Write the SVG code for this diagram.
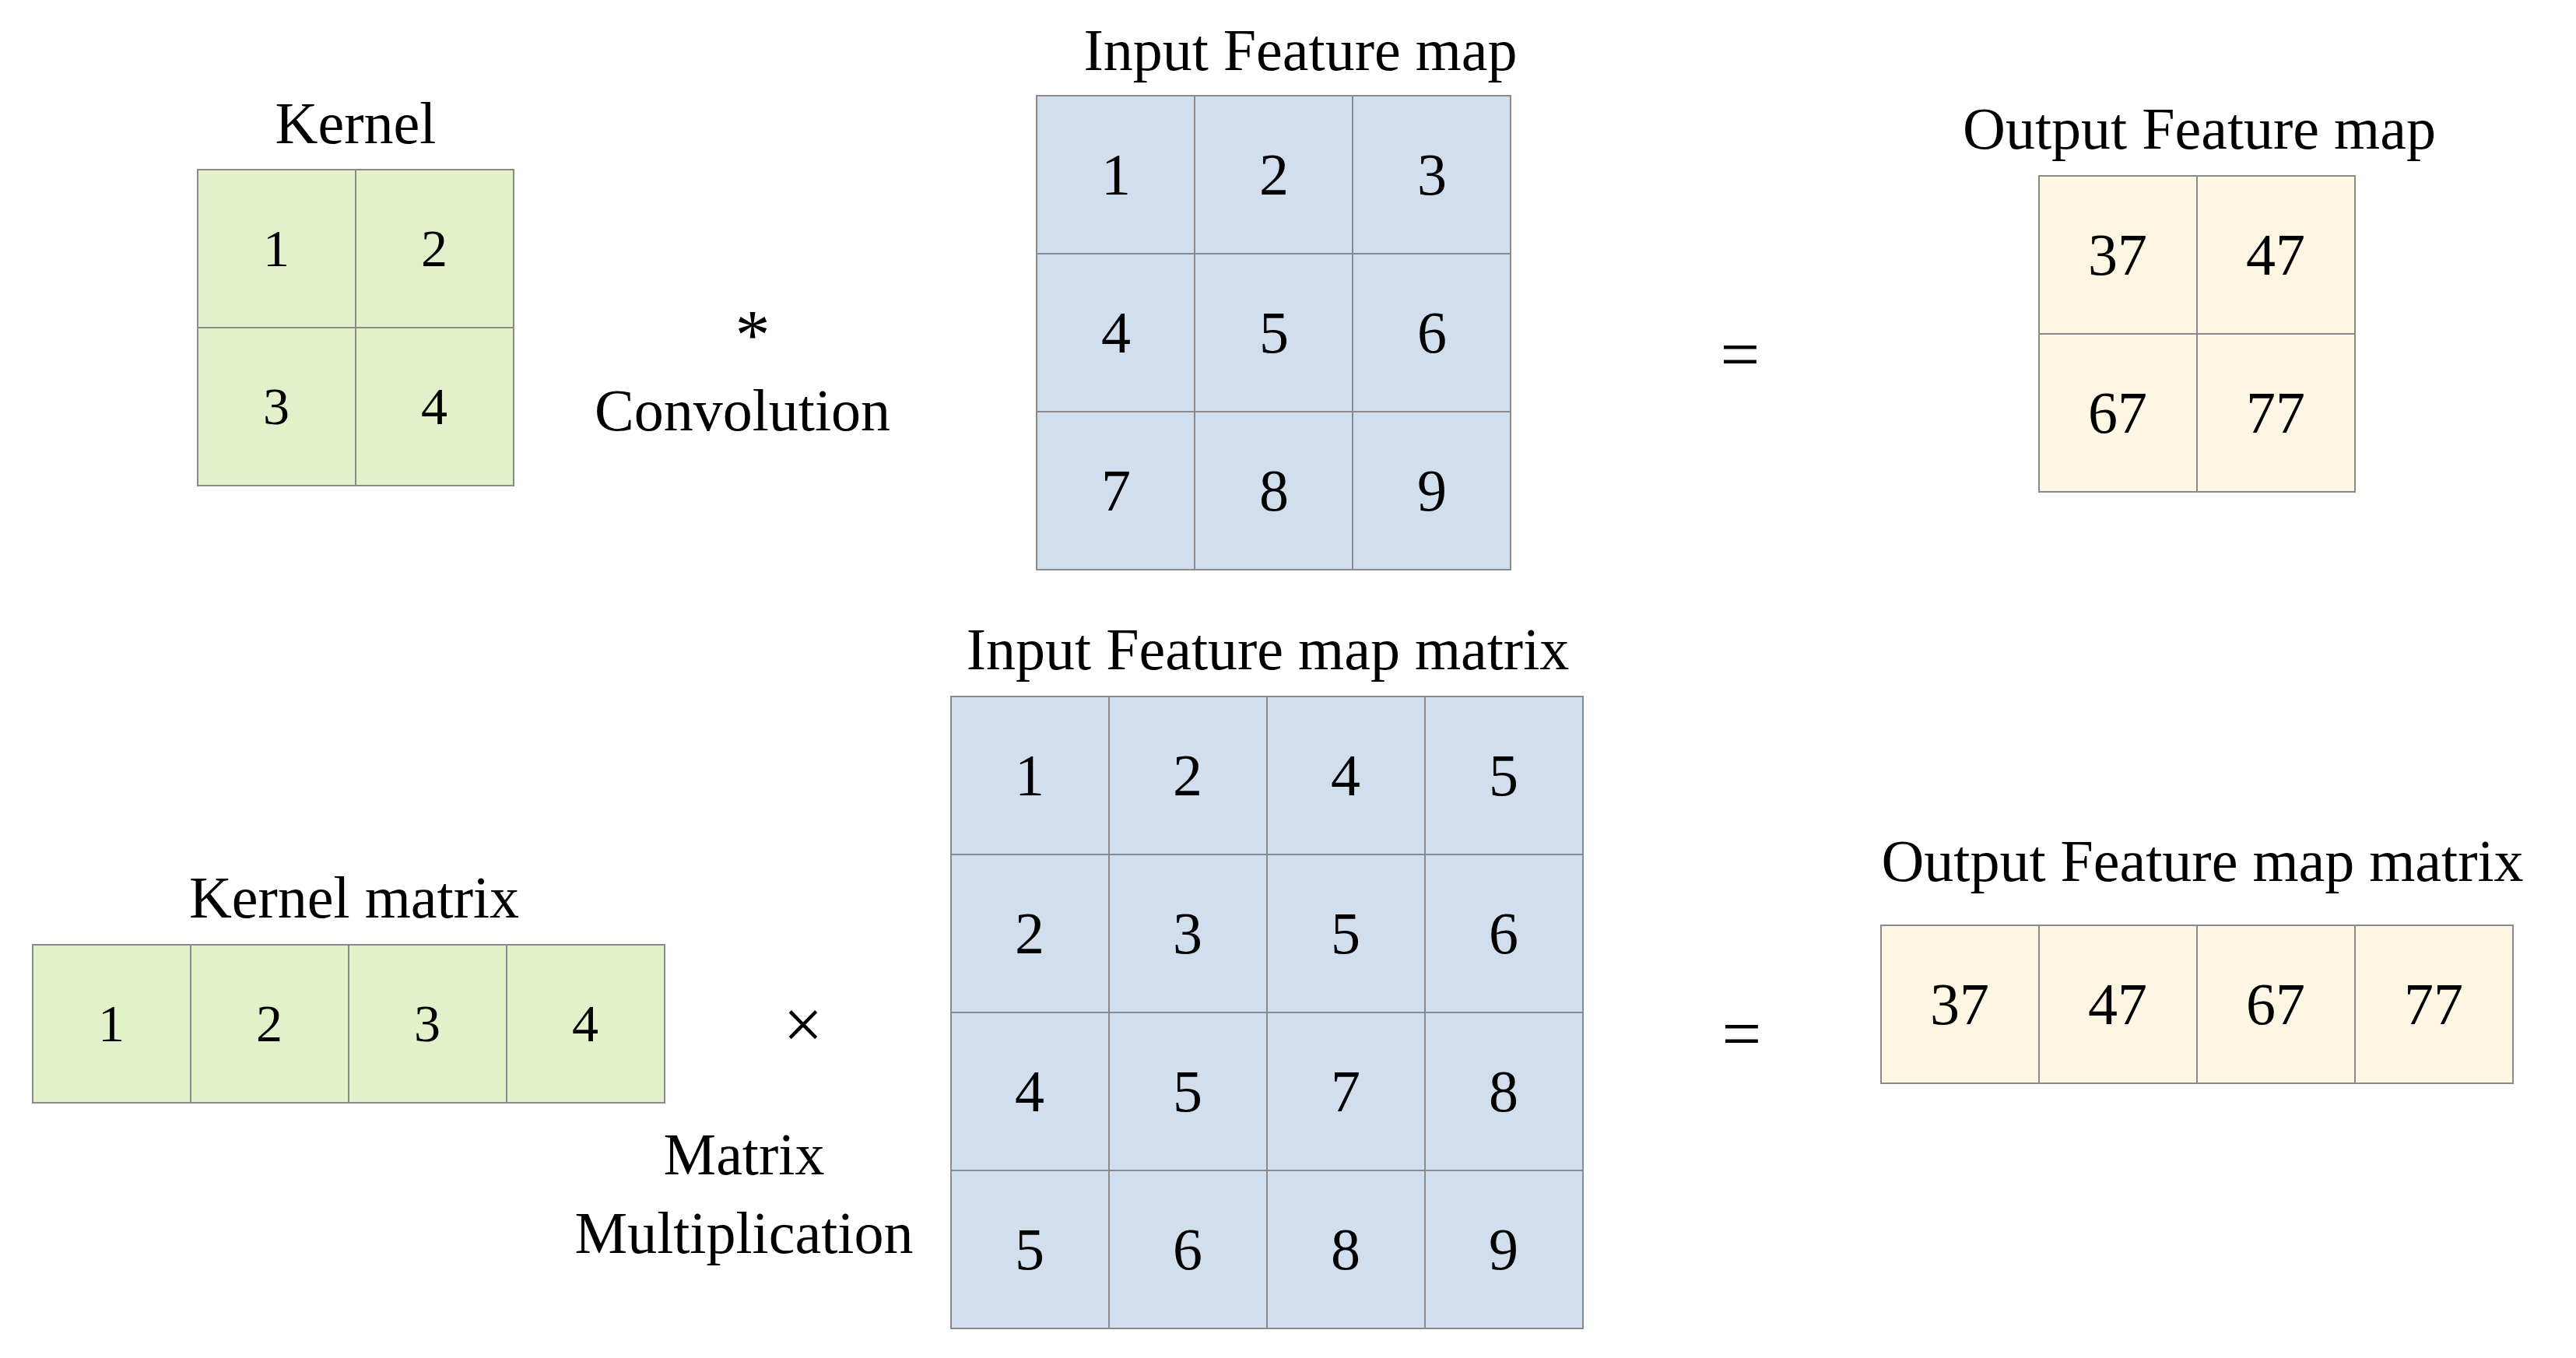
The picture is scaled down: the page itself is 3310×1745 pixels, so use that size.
<svg xmlns="http://www.w3.org/2000/svg" width="3310" height="1745" viewBox="0 0 3310 1745">
<style>
text{font-family:"Liberation Serif","Times New Roman",serif;fill:#000;text-anchor:middle;dominant-baseline:central}
.lbl{font-size:76px}
.g{fill:#E3F1CB;stroke:#8a8a8a;stroke-width:2}
.b{fill:#D1DEEE;stroke:#8a8a8a;stroke-width:2}
.y{fill:#FDF6E2;stroke:#8a8a8a;stroke-width:2}
.s{font-size:68px}
.m{font-size:76px}
</style>
<rect width="3310" height="1745" fill="#fff"/>
<g id="kernel">
<text class="lbl" x="457" y="158">Kernel</text>
<rect class="g" x="254" y="218" width="203" height="203"/><rect class="g" x="457" y="218" width="203" height="203"/>
<rect class="g" x="254" y="421" width="203" height="203"/><rect class="g" x="457" y="421" width="203" height="203"/>
<text class="s" x="355" y="319">1</text><text class="s" x="558" y="319">2</text>
<text class="s" x="355" y="522">3</text><text class="s" x="558" y="522">4</text>
</g>
<g id="conv-op">
<text x="967" y="430" style="font-size:90px">*</text>
<text class="lbl" x="954" y="527">Convolution</text>
</g>
<g id="input-map">
<text class="lbl" x="1671" y="64">Input Feature map</text>
<rect class="b" x="1332" y="123" width="203" height="203"/><rect class="b" x="1535" y="123" width="203" height="203"/><rect class="b" x="1738" y="123" width="203" height="203"/>
<rect class="b" x="1332" y="326" width="203" height="203"/><rect class="b" x="1535" y="326" width="203" height="203"/><rect class="b" x="1738" y="326" width="203" height="203"/>
<rect class="b" x="1332" y="529" width="203" height="203"/><rect class="b" x="1535" y="529" width="203" height="203"/><rect class="b" x="1738" y="529" width="203" height="203"/>
<text class="m" x="1434" y="224">1</text><text class="m" x="1637" y="224">2</text><text class="m" x="1840" y="224">3</text>
<text class="m" x="1434" y="427">4</text><text class="m" x="1637" y="427">5</text><text class="m" x="1840" y="427">6</text>
<text class="m" x="1434" y="630">7</text><text class="m" x="1637" y="630">8</text><text class="m" x="1840" y="630">9</text>
</g>
<g id="eq1"><text x="2236" y="455" style="font-size:90px">=</text></g>
<g id="output-map">
<text class="lbl" x="2826" y="165">Output Feature map</text>
<rect class="y" x="2620" y="226" width="203" height="203"/><rect class="y" x="2823" y="226" width="203" height="203"/>
<rect class="y" x="2620" y="429" width="203" height="203"/><rect class="y" x="2823" y="429" width="203" height="203"/>
<text class="m" x="2721" y="327">37</text><text class="m" x="2924" y="327">47</text>
<text class="m" x="2721" y="530">67</text><text class="m" x="2924" y="530">77</text>
</g>
<g id="kernel-matrix">
<text class="lbl" x="455" y="1153">Kernel matrix</text>
<rect class="g" x="42" y="1214" width="203" height="203"/><rect class="g" x="245" y="1214" width="203" height="203"/><rect class="g" x="448" y="1214" width="203" height="203"/><rect class="g" x="651" y="1214" width="203" height="203"/>
<text class="s" x="143" y="1315">1</text><text class="s" x="346" y="1315">2</text><text class="s" x="549" y="1315">3</text><text class="s" x="752" y="1315">4</text>
</g>
<g id="mul-op">
<text x="1032" y="1316" style="font-size:90px">×</text>
<text class="lbl" x="956" y="1483">Matrix</text>
<text class="lbl" x="956" y="1584">Multiplication</text>
</g>
<g id="input-matrix">
<text class="lbl" x="1629" y="834">Input Feature map matrix</text>
<g>
<rect class="b" x="1222" y="895" width="203" height="203"/><rect class="b" x="1425" y="895" width="203" height="203"/><rect class="b" x="1628" y="895" width="203" height="203"/><rect class="b" x="1831" y="895" width="203" height="203"/>
<rect class="b" x="1222" y="1098" width="203" height="203"/><rect class="b" x="1425" y="1098" width="203" height="203"/><rect class="b" x="1628" y="1098" width="203" height="203"/><rect class="b" x="1831" y="1098" width="203" height="203"/>
<rect class="b" x="1222" y="1301" width="203" height="203"/><rect class="b" x="1425" y="1301" width="203" height="203"/><rect class="b" x="1628" y="1301" width="203" height="203"/><rect class="b" x="1831" y="1301" width="203" height="203"/>
<rect class="b" x="1222" y="1504" width="203" height="203"/><rect class="b" x="1425" y="1504" width="203" height="203"/><rect class="b" x="1628" y="1504" width="203" height="203"/><rect class="b" x="1831" y="1504" width="203" height="203"/>
</g>
<text class="m" x="1323" y="996">1</text><text class="m" x="1526" y="996">2</text><text class="m" x="1729" y="996">4</text><text class="m" x="1932" y="996">5</text>
<text class="m" x="1323" y="1199">2</text><text class="m" x="1526" y="1199">3</text><text class="m" x="1729" y="1199">5</text><text class="m" x="1932" y="1199">6</text>
<text class="m" x="1323" y="1402">4</text><text class="m" x="1526" y="1402">5</text><text class="m" x="1729" y="1402">7</text><text class="m" x="1932" y="1402">8</text>
<text class="m" x="1323" y="1605">5</text><text class="m" x="1526" y="1605">6</text><text class="m" x="1729" y="1605">8</text><text class="m" x="1932" y="1605">9</text>
</g>
<g id="eq2"><text x="2238" y="1328" style="font-size:90px">=</text></g>
<g id="output-matrix">
<text class="lbl" x="2830" y="1106">Output Feature map matrix</text>
<rect class="y" x="2417" y="1189" width="203" height="203"/><rect class="y" x="2620" y="1189" width="203" height="203"/><rect class="y" x="2823" y="1189" width="203" height="203"/><rect class="y" x="3026" y="1189" width="203" height="203"/>
<text class="m" x="2518" y="1290">37</text><text class="m" x="2721" y="1290">47</text><text class="m" x="2924" y="1290">67</text><text class="m" x="3127" y="1290">77</text>
</g>
<g id="connectors"></g>
</svg>
